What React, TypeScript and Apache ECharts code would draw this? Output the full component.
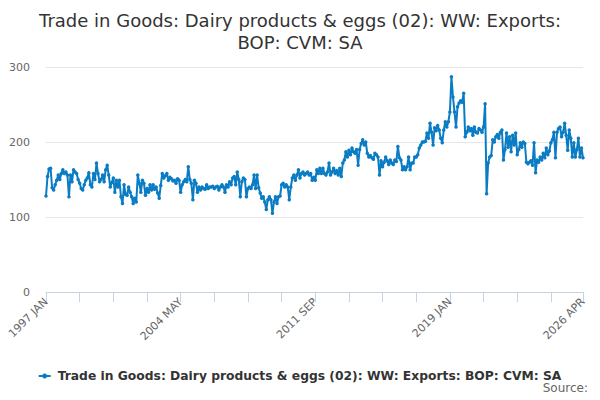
import React, { useEffect, useRef } from 'react';
import * as echarts from 'echarts';

const MONTHS = ['JAN', 'FEB', 'MAR', 'APR', 'MAY', 'JUN', 'JUL', 'AUG', 'SEP', 'OCT', 'NOV', 'DEC'];

// monthly values by year
const y1997 = [128, 154, 164, 165, 139, 136, 143, 149, 156, 150, 158, 163];
const y1998 = [158, 160, 156, 127, 156, 147, 163, 160, 158, 150, 145, 138];
const y1999 = [136, 143, 149, 152, 159, 143, 140, 158, 150, 172, 158, 147];
const y2000 = [150, 156, 147, 163, 169, 156, 140, 146, 152, 133, 149, 140];
const y2001 = [149, 127, 118, 143, 130, 129, 140, 133, 127, 118, 125, 120];
const y2002 = [156, 145, 133, 149, 145, 129, 138, 133, 143, 136, 143, 137];
const y2003 = [140, 132, 125, 142, 158, 152, 155, 158, 149, 153, 151, 148];
const y2004 = [149, 145, 151, 149, 133, 143, 147, 150, 147, 167, 150, 145];
const y2005 = [123, 149, 145, 133, 140, 136, 140, 138, 137, 143, 138, 140];
const y2006 = [140, 141, 138, 140, 141, 136, 140, 143, 140, 133, 143, 140];
const y2007 = [147, 143, 152, 154, 143, 160, 150, 127, 147, 152, 150, 127];
const y2008 = [138, 140, 138, 143, 156, 138, 156, 139, 132, 125, 127, 120];
const y2009 = [110, 123, 127, 123, 105, 120, 127, 118, 127, 128, 143, 145];
const y2010 = [140, 143, 140, 123, 140, 152, 156, 149, 156, 163, 152, 158];
const y2011 = [160, 156, 158, 160, 156, 158, 149, 153, 149, 163, 158, 165];
const y2012 = [158, 165, 158, 156, 160, 172, 156, 160, 165, 158, 162, 156];
const y2013 = [165, 154, 172, 176, 187, 180, 189, 183, 192, 187, 185, 190];
const y2014 = [169, 190, 198, 203, 196, 200, 185, 180, 182, 179, 177, 185];
const y2015 = [183, 180, 156, 175, 167, 173, 180, 175, 170, 176, 172, 170];
const y2016 = [176, 174, 194, 179, 176, 163, 167, 163, 167, 180, 163, 172];
const y2017 = [172, 180, 180, 183, 192, 196, 200, 200, 201, 212, 205, 225];
const y2018 = [213, 196, 219, 215, 222, 216, 205, 199, 216, 227, 220, 227];
const y2019 = [240, 287, 260, 240, 220, 247, 252, 255, 253, 265, 207, 213];
const y2020 = [220, 215, 218, 209, 220, 213, 212, 218, 216, 213, 220, 251];
const y2021 = [131, 172, 180, 182, 203, 200, 207, 210, 205, 213, 216, 176];
const y2022 = [190, 212, 193, 207, 187, 209, 196, 212, 183, 190, 199, 193];
const y2023 = [200, 198, 173, 171, 173, 175, 169, 199, 159, 176, 173, 180];
const y2024 = [176, 185, 179, 192, 183, 188, 199, 203, 213, 179, 213, 218];
const y2025 = [220, 207, 213, 225, 209, 189, 216, 205, 180, 199, 180, 190];
const y2026 = [205, 180, 192, 179];

const yearly = [
  y1997, y1998, y1999, y2000, y2001, y2002, y2003, y2004, y2005, y2006,
  y2007, y2008, y2009, y2010, y2011, y2012, y2013, y2014, y2015, y2016,
  y2017, y2018, y2019, y2020, y2021, y2022, y2023, y2024, y2025, y2026,
];

const SERIES_NAME = 'Trade in Goods: Dairy products & eggs (02): WW: Exports: BOP: CVM: SA';

const categories: string[] = [];
const values: number[] = [];
yearly.forEach((arr, yi) => {
  arr.forEach((v, mi) => {
    categories.push(`${1997 + yi} ${MONTHS[mi]}`);
    values.push(v);
  });
});
const lastIdx = categories.length - 1;

export default function App() {
  const chartRef = useRef<HTMLDivElement>(null);

  useEffect(() => {
    if (!chartRef.current) return;
    const chart = echarts.init(chartRef.current, undefined, { renderer: 'svg' });

    const option: echarts.EChartsOption = {
      animation: false,
      backgroundColor: '#fff',
      title: {
        text: 'Trade in Goods: Dairy products & eggs (02): WW: Exports:\nBOP: CVM: SA',
        left: 'center',
        top: 4,
        textStyle: {
          fontFamily: 'DejaVu Sans',
          fontSize: 18,
          fontWeight: 'normal',
          color: '#333',
          lineHeight: 22,
        },
      },
      legend: {
        data: [SERIES_NAME],
        bottom: 13,
        left: 'center',
        icon: 'path://M0,4 L12,4 L12,6 L0,6 Z M6,2.5 A2.5,2.5 0 1 1 5.99,2.5 Z',
        itemWidth: 16,
        itemHeight: 5,
        textStyle: {
          fontFamily: 'DejaVu Sans',
          fontSize: 12.3,
          fontWeight: 'bold',
          color: '#333',
        },
      },
      graphic: [
        {
          type: 'text',
          right: 12,
          bottom: 6,
          style: {
            text: 'Source:',
            fontFamily: 'DejaVu Sans',
            fontSize: 12,
            fill: '#666',
          },
        },
      ],
      grid: {
        left: 46,
        right: 17,
        top: 67,
        bottom: 108,
      },
      xAxis: {
        type: 'category',
        data: categories,
        boundaryGap: false,
        axisLine: { lineStyle: { color: '#c6d3e6', width: 1 } },
        axisTick: {
          show: true,
          length: 10,
          lineStyle: { color: '#c6d3e6' },
          interval: (i: number) => i % 22 === 0 || i === lastIdx,
        },
        axisLabel: {
          rotate: 45,
          fontFamily: 'DejaVu Sans',
          fontSize: 11,
          color: '#666',
          margin: 8,
          interval: (i: number) => i % 88 === 0 || i === lastIdx,
        },
        splitLine: { show: false },
      },
      yAxis: {
        type: 'value',
        min: 0,
        max: 300,
        interval: 100,
        axisLine: { show: false },
        axisTick: { show: false },
        axisLabel: {
          fontFamily: 'DejaVu Sans',
          fontSize: 11,
          color: '#666',
          margin: 16,
        },
        splitLine: { lineStyle: { color: '#e6e6e6' } },
      },
      series: [
        {
          name: SERIES_NAME,
          type: 'line',
          data: values,
          color: '#0a7cc4',
          lineStyle: { color: '#0a7cc4', width: 2 },
          itemStyle: { color: '#0a7cc4' },
          symbol: 'circle',
          symbolSize: 3.5,
          showAllSymbol: true,
        },
      ],
    };

    chart.setOption(option);
    return () => {
      chart.dispose();
    };
  }, []);

  return <div ref={chartRef} style={{ width: '600px', height: '400px', margin: '-8px' }} />;
}
